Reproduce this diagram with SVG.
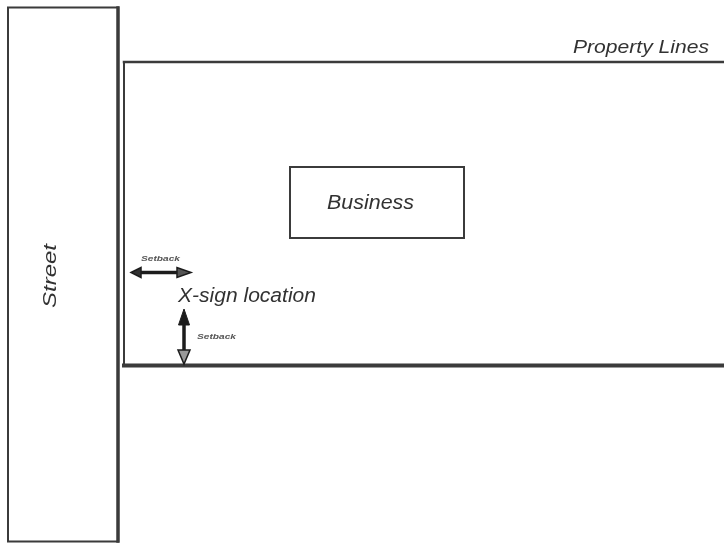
<svg xmlns="http://www.w3.org/2000/svg" width="724" height="543" viewBox="0 0 724 543">
<defs>
<style>
text{font-family:"Liberation Sans",Arial,sans-serif;font-style:italic;fill:#333}
.l{fill:none;stroke:#3a3a3a;stroke-linecap:square}
.s{fill:#555;font-weight:bold;font-size:8px}
</style>
<filter id="b" x="-5%" y="-5%" width="110%" height="110%"><feGaussianBlur stdDeviation="0.6"/></filter>
</defs>
<rect width="724" height="543" fill="#fff"/>
<g filter="url(#b)">
<g id="street">
<path class="l" stroke-width="2" d="M8 7.500H118M8 7.500V541.500M8 541.500H118"/>
<path class="l" stroke-width="3.500" d="M118 8V541"/>
<text transform="translate(56 276) rotate(-90)" font-size="19" text-anchor="middle" textLength="64" lengthAdjust="spacingAndGlyphs">Street</text>
</g>
<g id="property">
<path class="l" stroke-width="2.500" d="M124 62H724"/>
<path class="l" stroke-width="2" d="M124 62V365"/>
<path class="l" stroke-width="4" d="M124 365.500H724"/>
<text x="573" y="53" font-size="18.500" textLength="136" lengthAdjust="spacingAndGlyphs">Property Lines</text>
</g>
<g id="business">
<rect x="290" y="167" width="174" height="71" fill="#fff" stroke="#3a3a3a" stroke-width="2"/>
<text x="327" y="209" font-size="20" textLength="87" lengthAdjust="spacingAndGlyphs">Business</text>
</g>
<text id="sign" x="178" y="302" font-size="20" textLength="138" lengthAdjust="spacingAndGlyphs">X-sign location</text>
<text class="s" x="141" y="261" textLength="39" lengthAdjust="spacingAndGlyphs">Setback</text>
<text class="s" x="197" y="339" textLength="39" lengthAdjust="spacingAndGlyphs">Setback</text>
<g id="connectors">
<path stroke="#1c1c1c" stroke-width="3.500" fill="none" d="M140 272.500H182"/>
<path stroke="#1c1c1c" stroke-width="3.500" fill="none" d="M184 320V358"/>
<path d="M131 272.500L141 267.500V277.500Z" fill="#333" stroke="#1c1c1c" stroke-width="1.500"/>
<path d="M191 272.500L177 267.500V277.500Z" fill="#555" stroke="#1c1c1c" stroke-width="1.500"/>
<path d="M184 309L178.500 325H189.500Z" fill="#1c1c1c" stroke="#1c1c1c" stroke-width="1"/>
<path d="M178 350H190L184 364Z" fill="#999" stroke="#1c1c1c" stroke-width="1.500"/>
</g>
</g>
</svg>
